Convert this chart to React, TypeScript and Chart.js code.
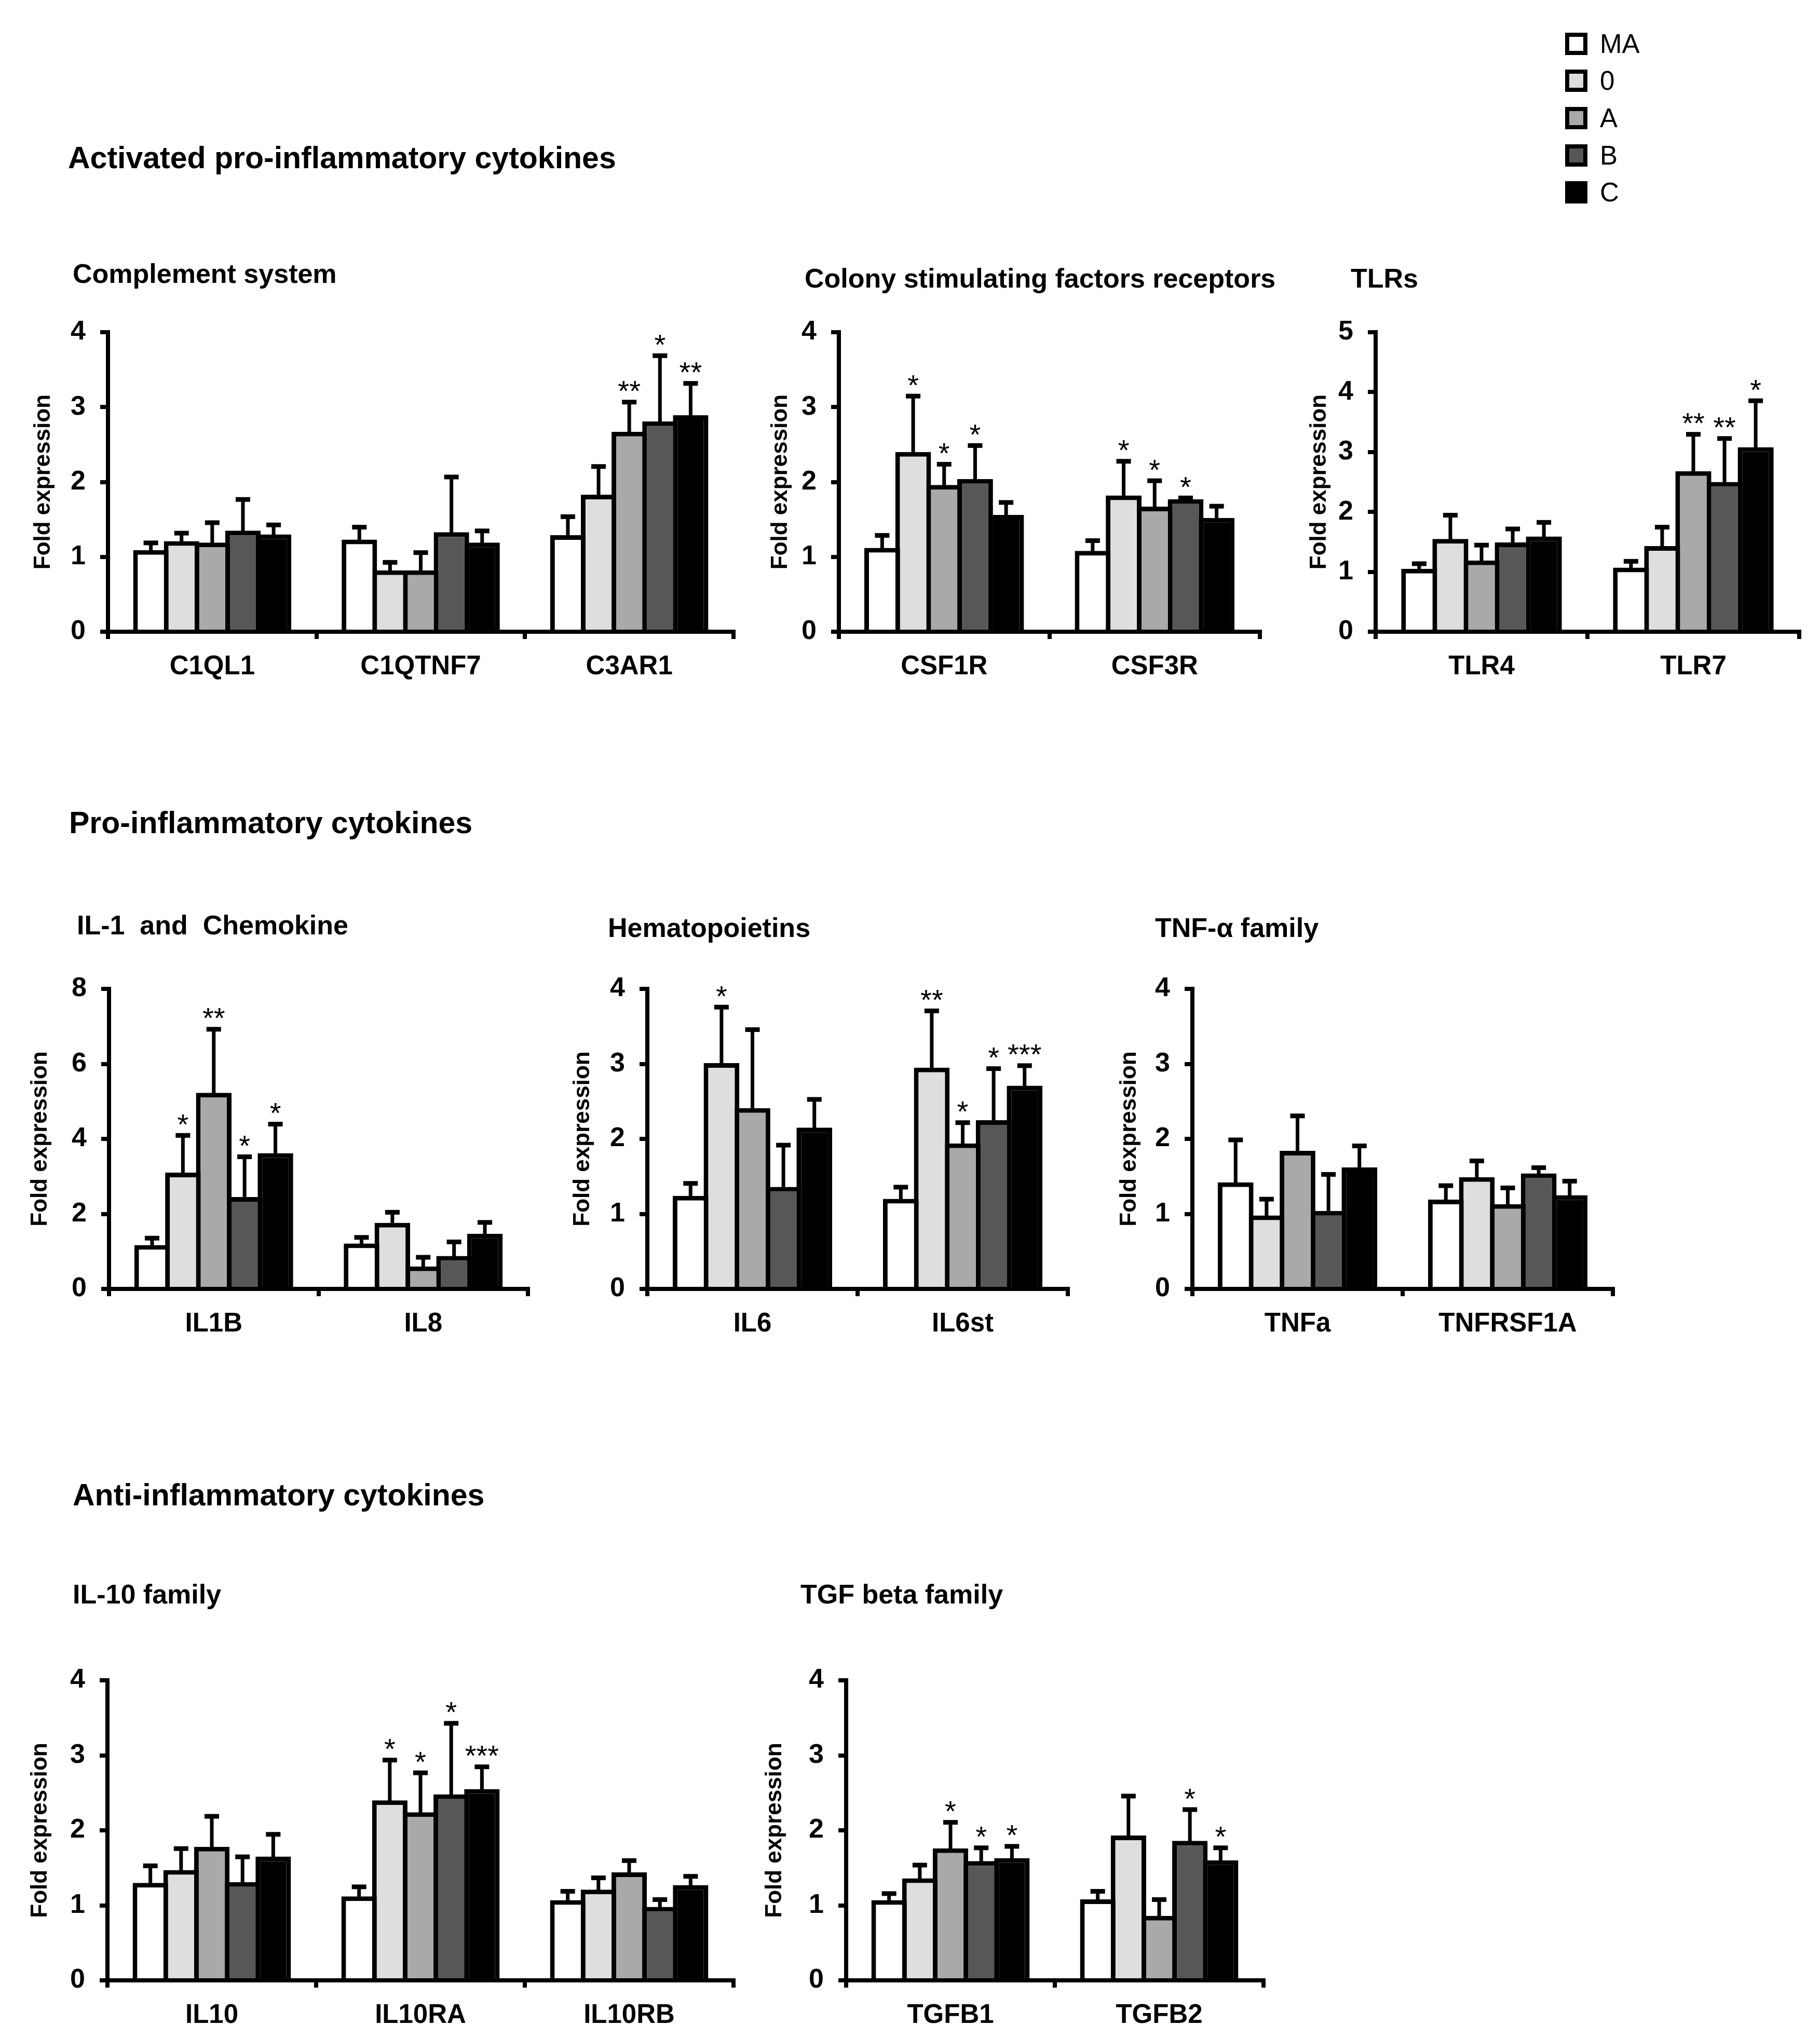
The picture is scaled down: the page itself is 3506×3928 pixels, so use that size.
import React, { useEffect, useRef } from 'react';
import { Chart, registerables } from 'chart.js';

Chart.register(...registerables);

const FONT = '"Liberation Sans", Arial, Helvetica, sans-serif';

// ---------- series ----------
const seriesNames = ['MA', '0', 'A', 'B', 'C'];
const seriesColors = ['#ffffff', '#dedede', '#a9a9a9', '#575757', '#000000'];

// ---------- Complement system ----------
const complementGenes = ['C1QL1', 'C1QTNF7', 'C3AR1'];
const complementMeans = [
  [1.09, 1.23, 1.29],
  [1.21, 0.82, 1.83],
  [1.19, 0.82, 2.67],
  [1.35, 1.33, 2.81],
  [1.30, 1.19, 2.89],
];
const complementSD = [
  [0.10, 0.17, 0.25],
  [0.11, 0.11, 0.38],
  [0.27, 0.24, 0.40],
  [0.42, 0.74, 0.88],
  [0.13, 0.16, 0.43],
];
const complementStars = [
  ['', '', ''],
  ['', '', ''],
  ['', '', '**'],
  ['', '', '*'],
  ['', '', '**'],
];

// ---------- Colony stimulating factors receptors ----------
const csfGenes = ['CSF1R', 'CSF3R'];
const csfMeans = [
  [1.12, 1.08],
  [2.40, 1.82],
  [1.96, 1.67],
  [2.04, 1.77],
  [1.56, 1.52],
];
const csfSD = [
  [0.17, 0.14],
  [0.75, 0.46],
  [0.28, 0.35],
  [0.45, 0.02],
  [0.17, 0.16],
];
const csfStars = [
  ['', ''],
  ['*', '*'],
  ['*', '*'],
  ['*', '*'],
  ['', ''],
];

// ---------- TLRs ----------
const tlrGenes = ['TLR4', 'TLR7'];
const tlrMeans = [
  [1.05, 1.07],
  [1.55, 1.43],
  [1.19, 2.68],
  [1.49, 2.50],
  [1.59, 3.08],
];
const tlrSD = [
  [0.09, 0.11],
  [0.40, 0.32],
  [0.26, 0.62],
  [0.23, 0.73],
  [0.24, 0.78],
];
const tlrStars = [
  ['', ''],
  ['', ''],
  ['', '**'],
  ['', '**'],
  ['', '*'],
];

// ---------- IL-1 and Chemokine ----------
const il1Genes = ['IL1B', 'IL8'];
const il1Means = [
  [1.17, 1.21],
  [3.10, 1.76],
  [5.23, 0.60],
  [2.45, 0.88],
  [3.62, 1.47],
];
const il1SD = [
  [0.19, 0.17],
  [1.00, 0.29],
  [1.70, 0.25],
  [1.08, 0.38],
  [0.78, 0.31],
];
const il1Stars = [
  ['', ''],
  ['*', ''],
  ['**', ''],
  ['*', ''],
  ['*', ''],
];

// ---------- Hematopoietins ----------
const hemaGenes = ['IL6', 'IL6st'];
const hemaMeans = [
  [1.24, 1.20],
  [3.01, 2.95],
  [2.41, 1.94],
  [1.36, 2.25],
  [2.15, 2.71],
];
const hemaSD = [
  [0.17, 0.16],
  [0.75, 0.76],
  [1.05, 0.28],
  [0.56, 0.69],
  [0.38, 0.27],
];
const hemaStars = [
  ['', ''],
  ['*', '**'],
  ['', '*'],
  ['', '*'],
  ['', '***'],
];

// ---------- TNF-alpha family ----------
const tnfGenes = ['TNFa', 'TNFRSF1A'];
const tnfMeans = [
  [1.42, 1.19],
  [0.98, 1.49],
  [1.84, 1.13],
  [1.04, 1.54],
  [1.62, 1.25],
];
const tnfSD = [
  [0.57, 0.19],
  [0.22, 0.22],
  [0.47, 0.22],
  [0.49, 0.08],
  [0.29, 0.19],
];
const tnfStars = [
  ['', ''],
  ['', ''],
  ['', ''],
  ['', ''],
  ['', ''],
];

// ---------- IL-10 family ----------
const il10Genes = ['IL10', 'IL10RA', 'IL10RB'];
const il10Means = [
  [1.30, 1.12, 1.07],
  [1.47, 2.40, 1.21],
  [1.78, 2.24, 1.44],
  [1.31, 2.48, 0.98],
  [1.65, 2.55, 1.27],
];
const il10SD = [
  [0.23, 0.13, 0.12],
  [0.29, 0.54, 0.16],
  [0.41, 0.53, 0.16],
  [0.34, 0.95, 0.10],
  [0.30, 0.30, 0.12],
];
const il10Stars = [
  ['', '', ''],
  ['', '*', ''],
  ['', '*', ''],
  ['', '*', ''],
  ['', '***', ''],
];

// ---------- TGF beta family ----------
const tgfGenes = ['TGFB1', 'TGFB2'];
const tgfMeans = [
  [1.07, 1.08],
  [1.36, 1.93],
  [1.76, 0.86],
  [1.59, 1.86],
  [1.63, 1.60],
];
const tgfSD = [
  [0.09, 0.11],
  [0.18, 0.53],
  [0.35, 0.22],
  [0.18, 0.42],
  [0.16, 0.17],
];
const tgfStars = [
  ['', ''],
  ['', ''],
  ['*', ''],
  ['*', '*'],
  ['*', '*'],
];

const yAxisTitle = 'Fold expression';

// ---------- layout (positions only) ----------
type PanelSpec = {
  genes: string[];
  means: number[][];
  sds: number[][];
  stars: string[][];
  yMax: number;
  yStep: number;
  left: number;
  right: number;
  top: number;
  bottom: number;
  titleOffset: number;
};

const panels: PanelSpec[] = [
  { genes: complementGenes, means: complementMeans, sds: complementSD, stars: complementStars, yMax: 4, yStep: 1, left: 208, right: 1413, top: 640, bottom: 1217, titleOffset: 122 },
  { genes: csfGenes, means: csfMeans, sds: csfSD, stars: csfStars, yMax: 4, yStep: 1, left: 1616, right: 2427, top: 640, bottom: 1217, titleOffset: 110 },
  { genes: tlrGenes, means: tlrMeans, sds: tlrSD, stars: tlrStars, yMax: 5, yStep: 1, left: 2650, right: 3466, top: 640, bottom: 1217, titleOffset: 106 },
  { genes: il1Genes, means: il1Means, sds: il1SD, stars: il1Stars, yMax: 8, yStep: 2, left: 210, right: 1017, top: 1905, bottom: 2483, titleOffset: 130 },
  { genes: hemaGenes, means: hemaMeans, sds: hemaSD, stars: hemaStars, yMax: 4, yStep: 1, left: 1247, right: 2057, top: 1905, bottom: 2483, titleOffset: 122 },
  { genes: tnfGenes, means: tnfMeans, sds: tnfSD, stars: tnfStars, yMax: 4, yStep: 1, left: 2297, right: 3107, top: 1905, bottom: 2483, titleOffset: 119 },
  { genes: il10Genes, means: il10Means, sds: il10SD, stars: il10Stars, yMax: 4, yStep: 1, left: 207, right: 1413, top: 3237, bottom: 3815, titleOffset: 127 },
  { genes: tgfGenes, means: tgfMeans, sds: tgfSD, stars: tgfStars, yMax: 4, yStep: 1, left: 1630, right: 2434, top: 3237, bottom: 3815, titleOffset: 135 },
];

type TextSpec = { text: string; x: number; baseline: number; size: number; weight: string };
const texts: TextSpec[] = [
  { text: 'Activated pro-inflammatory cytokines', x: 131, baseline: 325, size: 59, weight: 'bold' },
  { text: 'Complement system', x: 140, baseline: 545, size: 52, weight: 'bold' },
  { text: 'Colony stimulating factors receptors', x: 1550, baseline: 554, size: 52, weight: 'bold' },
  { text: 'TLRs', x: 2602, baseline: 554, size: 52, weight: 'bold' },
  { text: 'Pro-inflammatory cytokines', x: 133, baseline: 1606, size: 59, weight: 'bold' },
  { text: 'IL-1  and  Chemokine', x: 148, baseline: 1800, size: 52, weight: 'bold' },
  { text: 'Hematopoietins', x: 1171, baseline: 1805, size: 52, weight: 'bold' },
  { text: 'TNF-α family', x: 2225, baseline: 1805, size: 52, weight: 'bold' },
  { text: 'Anti-inflammatory cytokines', x: 140, baseline: 2901, size: 59, weight: 'bold' },
  { text: 'IL-10 family', x: 140, baseline: 3089, size: 52, weight: 'bold' },
  { text: 'TGF beta family', x: 1542, baseline: 3089, size: 52, weight: 'bold' },
];

const legendLeft = 3015;
const legendCenters = [84, 155, 227, 299, 370];

const AXW = 208;
const PADT = 140;
const AXH = 130;
const PADR = 24;

const errorBarPlugin = {
  id: 'errorBarsStars',
  afterDatasetsDraw(chart: any) {
    const ctx = chart.ctx as CanvasRenderingContext2D;
    const yScale = chart.scales.y;
    chart.data.datasets.forEach((ds: any, i: number) => {
      const meta = chart.getDatasetMeta(i);
      meta.data.forEach((bar: any, j: number) => {
        const mean = ds.data[j] as number;
        const sd = ds.sd[j] as number;
        const yTop = yScale.getPixelForValue(mean + sd);
        const yBar = yScale.getPixelForValue(mean);
        ctx.save();
        ctx.fillStyle = '#000';
        ctx.fillRect(bar.x - 3.5, yTop, 7, yBar - yTop + 2);
        ctx.fillRect(bar.x - 14, yTop - 4, 28, 9);
        const star = ds.stars[j] as string;
        if (star) {
          ctx.font = `56px ${FONT}`;
          ctx.textAlign = 'center';
          ctx.textBaseline = 'alphabetic';
          ctx.fillText(star, bar.x, yTop - 2);
        }
        ctx.restore();
      });
    });
  },
};

function BarPanel({ spec }: { spec: PanelSpec }) {
  const ref = useRef<HTMLCanvasElement>(null);
  const w = spec.right - spec.left + AXW + PADR;
  const h = spec.bottom - spec.top + PADT + AXH;
  useEffect(() => {
    if (!ref.current) return;
    const chart = new Chart(ref.current, {
      type: 'bar',
      data: {
        labels: spec.genes,
        datasets: seriesNames.map((name, i) => ({
          label: name,
          data: spec.means[i],
          sd: spec.sds[i],
          stars: spec.stars[i],
          backgroundColor: seriesColors[i],
          borderColor: '#000000',
          borderWidth: 9,
          borderSkipped: 'start',
          categoryPercentage: 0.736,
          barPercentage: 1.153,
        })) as any,
      },
      options: {
        responsive: false,
        maintainAspectRatio: false,
        animation: false,
        devicePixelRatio: 1,
        layout: { padding: { left: 0, top: PADT, right: PADR, bottom: 0 } },
        plugins: {
          legend: { display: false },
          tooltip: { enabled: false },
          title: { display: false },
        },
        scales: {
          x: {
            type: 'category',
            offset: true,
            grid: {
              offset: true,
              drawOnChartArea: false,
              drawTicks: true,
              tickLength: 14,
              lineWidth: 8,
              color: '#000000',
            },
            border: { display: true, width: 8, color: '#000000' },
            ticks: {
              color: '#000000',
              font: { family: FONT, size: 51, weight: 'bold' },
              padding: 23,
              maxRotation: 0,
              minRotation: 0,
              autoSkip: false,
            },
            afterFit: (s: any) => {
              s.height = AXH;
            },
          },
          y: {
            min: 0,
            max: spec.yMax,
            grid: {
              drawOnChartArea: false,
              drawTicks: true,
              tickLength: 15,
              lineWidth: 8,
              color: '#000000',
            },
            border: { display: true, width: 8, color: '#000000' },
            ticks: {
              stepSize: spec.yStep,
              color: '#000000',
              font: { family: FONT, size: 52, weight: 'bold' },
              padding: 28,
            },
            title: {
              display: true,
              text: yAxisTitle,
              color: '#000000',
              font: { family: FONT, size: 44, weight: 'bold' },
              padding: { top: AXW - spec.titleOffset - 26 - 3, bottom: 0 },
            },
            afterFit: (s: any) => {
              s.width = AXW;
            },
          },
        },
      } as any,
      plugins: [errorBarPlugin as any],
    });
    return () => chart.destroy();
  }, []);
  return (
    <canvas
      ref={ref}
      width={w}
      height={h}
      style={{ position: 'absolute', left: spec.left - AXW, top: spec.top - PADT, width: w, height: h }}
    />
  );
}

function TextItem({ t }: { t: TextSpec }) {
  return (
    <div
      style={{
        position: 'absolute',
        left: t.x,
        top: t.baseline - 0.8465 * t.size,
        fontFamily: FONT,
        fontSize: t.size,
        lineHeight: `${t.size}px`,
        fontWeight: t.weight as any,
        color: '#000',
        whiteSpace: 'pre',
      }}
    >
      {t.text}
    </div>
  );
}

export default function App() {
  return (
    <div
      style={{
        position: 'absolute',
        left: 0,
        top: 0,
        width: 3506,
        height: 3928,
        background: '#ffffff',
        overflow: 'hidden',
      }}
    >
      {texts.map((t, i) => (
        <TextItem key={'t' + i} t={t} />
      ))}
      {seriesNames.map((name, i) => (
        <React.Fragment key={'l' + i}>
          <div
            style={{
              position: 'absolute',
              left: legendLeft,
              top: legendCenters[i] - 21,
              width: 43,
              height: 43,
              boxSizing: 'border-box',
              border: '8px solid #000',
              background: seriesColors[i],
            }}
          />
          <div
            style={{
              position: 'absolute',
              left: legendLeft + 67,
              top: legendCenters[i] + 18 - 0.8465 * 51,
              fontFamily: FONT,
              fontSize: 51,
              lineHeight: '51px',
              color: '#000',
              whiteSpace: 'pre',
            }}
          >
            {name}
          </div>
        </React.Fragment>
      ))}
      {panels.map((p, i) => (
        <BarPanel key={'p' + i} spec={p} />
      ))}
    </div>
  );
}
